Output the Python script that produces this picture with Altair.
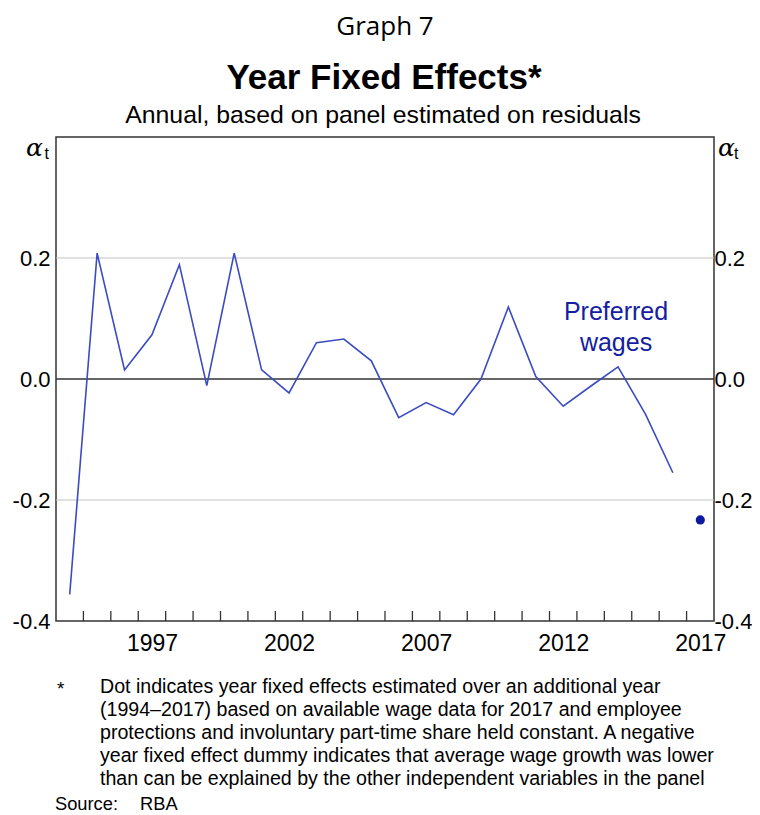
import altair as alt
import pandas as pd

# ---- data ----
years = list(range(1994, 2017))
values = [-0.356, 0.208, 0.015, 0.073, 0.189, -0.011, 0.208, 0.015, -0.023, 0.060,
          0.066, 0.030, -0.064, -0.039, -0.059, 0.000, 0.119, 0.004, -0.045, -0.012,
          0.020, -0.058, -0.155]
dot_years = [2017]
dot_values = [-0.233]
tick_years = list(range(1995, 2018))
label_years = [1997, 2002, 2007, 2012, 2017]
y_ticks = [-0.4, -0.2, 0.0, 0.2]
grid_values = [0.2, -0.2]
zero_values = [0.0]

graph_label = "Graph 7"
title_text = "Year Fixed Effects*"
subtitle_text = "Annual, based on panel estimated on residuals"
series_label = ["Preferred", "wages"]
footnote_lines = [
    "Dot indicates year fixed effects estimated over an additional year",
    "(1994\u20132017) based on available wage data for 2017 and employee",
    "protections and involuntary part-time share held constant. A negative",
    "year fixed effect dummy indicates that average wage growth was lower",
    "than can be explained by the other independent variables in the panel",
]
source_text = ["Source:", "RBA"]

line_df = pd.DataFrame({"year": years, "value": values})
dot_df = pd.DataFrame({"year": dot_years, "value": dot_values})
tick_df = pd.DataFrame({"year": tick_years})
grid_df = pd.DataFrame({"v": grid_values})
zero_df = pd.DataFrame({"v": zero_values})

W, H = 658, 484
FONT = "Liberation Sans"
LINE_COLOR = "#3b4cc0"
LABEL_COLOR = "#1420a0"
AX = 22

xs = alt.Scale(domain=[1994, 2018], nice=False, zero=False)
ys = alt.Scale(domain=[-0.4, 0.4], nice=False, zero=False)

ylabel_expr = ("datum.value < 0 ? '-' + format(abs(datum.value), '.1f') : "
               "format(datum.value, '.1f')")

left_axis = alt.Axis(values=y_ticks, labelExpr=ylabel_expr, orient="left",
                     domain=False, ticks=False, grid=False, title=None,
                     labelFont=FONT, labelFontSize=AX, labelColor="black",
                     labelPadding=6)
right_axis = alt.Axis(values=y_ticks, labelExpr=ylabel_expr, orient="right",
                      domain=False, ticks=False, grid=False, title=None,
                      labelFont=FONT, labelFontSize=AX, labelColor="black",
                      labelPadding=0)
x_axis = alt.Axis(values=[y + 0.5 for y in label_years], labelExpr="floor(datum.value)",
                  domain=False, ticks=False, grid=False, title=None,
                  labelFont=FONT, labelFontSize=23, labelColor="black",
                  labelPadding=11)

grid = alt.Chart(grid_df).mark_rule(color="#c4c4c4", strokeWidth=1.2).encode(
    y=alt.Y("v:Q", scale=ys, axis=right_axis)
)
zero = alt.Chart(zero_df).mark_rule(color="#333333", strokeWidth=1.5).encode(
    y=alt.Y("v:Q", scale=ys, axis=left_axis)
)
ticks = alt.Chart(tick_df).mark_rule(color="#333333", strokeWidth=1.3).encode(
    x=alt.X("year:Q", scale=xs, axis=x_axis),
    y=alt.value(H - 10), y2=alt.value(H)
)
line = alt.Chart(line_df).transform_calculate(xpos="datum.year + 0.5").mark_line(
    color=LINE_COLOR, strokeWidth=1.6
).encode(
    x=alt.X("xpos:Q", scale=xs, axis=x_axis),
    y=alt.Y("value:Q", scale=ys, axis=None),
)
dot = alt.Chart(dot_df).transform_calculate(xpos="datum.year + 0.5").mark_circle(
    color="#0b1aa0", size=85, opacity=1
).encode(
    x=alt.X("xpos:Q", scale=xs, axis=x_axis),
    y=alt.Y("value:Q", scale=ys, axis=None),
)

def txt(text, x, y, size, align="center", baseline="middle", weight="normal",
        color="black", font=FONT, style="normal", **kw):
    return alt.Chart(pd.DataFrame({"t": [text]})).mark_text(
        align=align, baseline=baseline, fontSize=size, fontWeight=weight,
        color=color, font=font, fontStyle=style, **kw
    ).encode(text="t:N", x=alt.value(x), y=alt.value(y))

texts = [
    txt(graph_label, 329, -110, 26, font="Open Sans"),
    txt(title_text, 328, -59, 35, weight="bold"),
    txt(subtitle_text, 327, -21, 24.8),
    txt("\u03b1", -13, 11, 25, align="right", font="DejaVu Serif", style="italic"),
    txt("t", -7, 17, 16, align="right"),
    txt("\u03b1", 662, 11, 25, align="left", font="DejaVu Serif", style="italic"),
    txt("t", 678, 17, 16, align="left"),
    txt(series_label[0], 560, 175, 25, color=LABEL_COLOR),
    txt(series_label[1], 560, 206, 25, color=LABEL_COLOR),
    txt("*", 1, 552, 19, align="left"),
    txt("\n".join(footnote_lines), 44, 541, 19.6, align="left", baseline="top",
        lineBreak="\n", lineHeight=23),
    txt(source_text[0], -1, 668, 18.3, align="left"),
    txt(source_text[1], 84, 668, 18.3, align="left"),
]

chart = alt.layer(grid, zero, ticks, line, dot, *texts).resolve_scale(
    y="independent"
).properties(
    width=W, height=H,
    padding={"left": 48, "top": 129, "right": 38, "bottom": 194},
    autosize=alt.AutoSizeParams(type="none"),
    background="white",
).configure_view(stroke="#333333", strokeWidth=1.5)

chart.save("out.html", embed_options={"renderer": "svg", "actions": False})
